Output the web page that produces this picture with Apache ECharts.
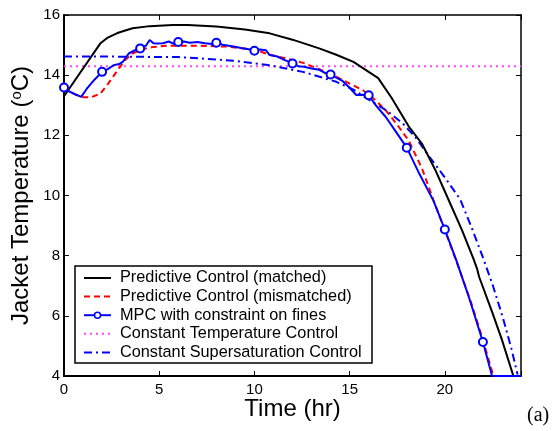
<!DOCTYPE html>
<html><head><meta charset="utf-8">
<script src="https://cdn.jsdelivr.net/npm/echarts@6/dist/echarts.min.js"></script>
<style>html,body{margin:0;padding:0;background:#fff}#c{width:553px;height:431px}</style>
</head><body><div id="c"></div>
<script>
const seriesNames = ['Predictive Control (matched)','Predictive Control (mismatched)','MPC with constraint on fines','Constant Temperature Control','Constant Supersaturation Control'];
const xTicks = [0,5,10,15,20];
const yTicks = [4,6,8,10,12,14,16];

const matchedT = [0,1.9,2.3,2.8,3.6,4.5,5.7,6.5,8,9.5,10.8,12,13.4,14.3,15.2,16.5,17.2,18.1,18.8,19.5,20.2,20.9,21.5,21.7,21.8,22.5,23,23.6];
const matchedY = [13.3,15.05,15.25,15.4,15.56,15.63,15.67,15.67,15.62,15.52,15.39,15.18,14.89,14.68,14.44,13.9,13.25,12.3,11.72,10.85,9.85,8.85,7.9,7.55,7.3,6.1,5.2,4.0];

const mismatchT = [0,0.6,1.0,1.4,1.9,2.3,2.8,3.2,3.6,4.1,4.7,5.5,7,8.5,10,10.8,11.7,12.6,13.4,14.3,15,15.7,16.3,16.9,17.5,18.1,18.8,19.4,20,20.7,21.4,22,22.55];
const mismatchY = [13.55,13.35,13.27,13.26,13.38,13.7,14.15,14.5,14.72,14.86,14.94,14.98,14.98,14.95,14.85,14.68,14.55,14.4,14.2,13.95,13.72,13.5,13.2,12.83,12.35,11.83,10.9,9.85,8.85,7.65,6.4,5.2,4.0];

const mpcT = [0,0.3,0.9,1.2,1.6,2.0,2.3,2.6,2.9,3.1,3.4,3.7,4.0,4.3,4.5,4.7,4.9,5.2,5.5,5.8,6.0,6.3,6.6,7.0,7.4,7.8,8.0,8.4,8.9,9.3,9.7,10.0,10.3,10.6,10.8,11.2,11.6,12.0,12.3,12.6,13.0,13.4,13.7,14.0,14.3,14.6,15.0,15.35,15.7,16.0,16.4,16.9,17.4,18.0,18.6,19.4,20.0,20.6,21.3,22.0,22.48,23.2,24];
const mpcY = [13.59,13.45,13.28,13.55,13.85,14.11,14.2,14.33,14.37,14.45,14.72,14.82,14.89,14.98,15.17,15.06,15.05,15.06,15.12,15.03,15.1,15.12,15.08,15.1,15.06,15.04,15.08,15.0,14.95,14.9,14.86,14.81,14.85,14.83,14.67,14.62,14.5,14.39,14.3,14.28,14.22,14.18,14.08,14.02,13.92,13.82,13.58,13.34,13.35,13.33,12.98,12.61,12.15,11.59,10.8,9.83,8.87,7.85,6.55,5.13,4.0,4.0,4.0];
const mpcMarkerT = [0,2,4,6,8,10,12,14,16,18,20,22];

const constTempT = [0,24];
const constTempY = [14.3,14.3];

const superT = [0,2,4,6,7.1,8.9,10.8,12.55,14.3,15.2,16.05,17,17.8,18.5,19.2,20,20.8,21.4,22,22.5,23.05,23.5,23.82];
const superY = [14.62,14.62,14.61,14.6,14.56,14.48,14.33,14.11,13.78,13.52,13.17,12.8,12.39,11.9,11.28,10.6,9.88,8.95,7.94,7.05,5.94,4.9,4.05];

function pairs(t,y){return t.map((v,i)=>[v,y[i]]);}
const mpcData = mpcT.map((v,i)=>{
  const it = {value:[v,mpcY[i]]};
  if(mpcMarkerT.indexOf(v) < 0) it.symbol = 'none';
  return it;
});

const font = 'Liberation Sans, Arial, Helvetica, sans-serif';
const styles = [
  {color:'#000000',width:2,dash:null},
  {color:'#ff0000',width:2,dash:[6,4]},
  {color:'#0000ff',width:2,dash:null,marker:true},
  {color:'#ff44ff',width:2,dash:[2,4]},
  {color:'#0000ff',width:2,dash:[8,4,2,4]}
];

// custom legend (graphic)
const legX = 75, legY = 266, legW = 297, legH = 97, rowY0 = 278, rowStep = 18.6;
const legendGraphics = [{type:'rect',shape:{x:legX,y:legY,width:legW,height:legH},
  style:{fill:'#fff',stroke:'#000',lineWidth:1.5},z:100}];
seriesNames.forEach((n,i)=>{
  const y = rowY0 + i*rowStep;
  const s = styles[i];
  legendGraphics.push({type:'line',shape:{x1:84,y1:y,x2:111,y2:y},
    style:{stroke:s.color,lineWidth:s.width,lineDash:s.dash},z:101});
  if(s.marker) legendGraphics.push({type:'circle',shape:{cx:97.5,cy:y,r:3},
    style:{fill:'#fff',stroke:s.color,lineWidth:1.5},z:102});
  legendGraphics.push({type:'text',x:120,y:y,style:{text:n,fontSize:16.3,fill:'#000',
    fontFamily:font,verticalAlign:'middle',align:'left'},z:101});
});
legendGraphics.push({type:'text',left:527,top:406,style:{text:'(a)',fontSize:20,fill:'#000',fontFamily:'Liberation Serif, Times New Roman, serif'}});

const chart = echarts.init(document.getElementById('c'));
chart.setOption({
  animation:false,
  grid:{left:64,right:32,top:15,bottom:55},
  xAxis:[{
    type:'value',min:0,max:24,interval:5,
    name:'Time (hr)',nameLocation:'middle',nameGap:21,nameMoveOverlap:false,
    nameTextStyle:{fontSize:24,color:'#000',fontFamily:font,verticalAlign:'top'},
    axisLine:{lineStyle:{color:'#000',width:2}},
    axisTick:{inside:true,length:5,lineStyle:{color:'#000',width:1}},
    axisLabel:{fontSize:15,color:'#000',fontFamily:font,margin:6,
      formatter:v=>xTicks.indexOf(v)>=0?String(v):''},
    splitLine:{show:false}
  },{
    type:'value',min:0,max:24,interval:5,position:'top',
    axisLine:{onZero:false,lineStyle:{color:'#000',width:1.5}},
    axisTick:{inside:true,length:5,lineStyle:{color:'#000'}},
    axisLabel:{show:false},splitLine:{show:false}
  }],
  yAxis:[{
    type:'value',min:4,max:16,interval:2,
    name:'Jacket Temperature ({s|o}C)',nameLocation:'middle',nameGap:30,nameMoveOverlap:false,
    nameTextStyle:{fontSize:24,color:'#000',fontFamily:font,
      rich:{s:{fontSize:15,color:'#000',fontFamily:font,verticalAlign:'top',padding:[0,0,10,0]}}},
    axisLine:{lineStyle:{color:'#000',width:2}},
    axisTick:{inside:true,length:5,lineStyle:{color:'#000'}},
    axisLabel:{fontSize:15,color:'#000',fontFamily:font,margin:4,
      formatter:v=>yTicks.indexOf(v)>=0?String(v):''},
    splitLine:{show:false}
  },{
    type:'value',min:4,max:16,interval:2,position:'right',
    axisLine:{show:true,onZero:false,lineStyle:{color:'#000',width:1.5}},
    axisTick:{show:true,inside:true,length:5,lineStyle:{color:'#000'}},
    axisLabel:{show:false},splitLine:{show:false}
  }],
  series:[
    {name:seriesNames[0],type:'line',data:pairs(matchedT,matchedY),symbol:'none',
     lineStyle:{color:styles[0].color,width:2},itemStyle:{color:styles[0].color},z:3},
    {name:seriesNames[1],type:'line',data:pairs(mismatchT,mismatchY),symbol:'none',
     lineStyle:{color:styles[1].color,width:2,type:styles[1].dash},itemStyle:{color:styles[1].color},z:2},
    {name:seriesNames[2],type:'line',data:mpcData,symbol:'emptyCircle',symbolSize:8,showSymbol:true,
     lineStyle:{color:styles[2].color,width:2},itemStyle:{color:styles[2].color,borderWidth:2},z:4},
    {name:seriesNames[3],type:'line',data:pairs(constTempT,constTempY),symbol:'none',
     lineStyle:{color:styles[3].color,width:2,type:styles[3].dash},itemStyle:{color:styles[3].color},z:1},
    {name:seriesNames[4],type:'line',data:pairs(superT,superY),symbol:'none',
     lineStyle:{color:styles[4].color,width:2,type:styles[4].dash},itemStyle:{color:styles[4].color},z:2}
  ],
  graphic:legendGraphics
});
</script></body></html>
